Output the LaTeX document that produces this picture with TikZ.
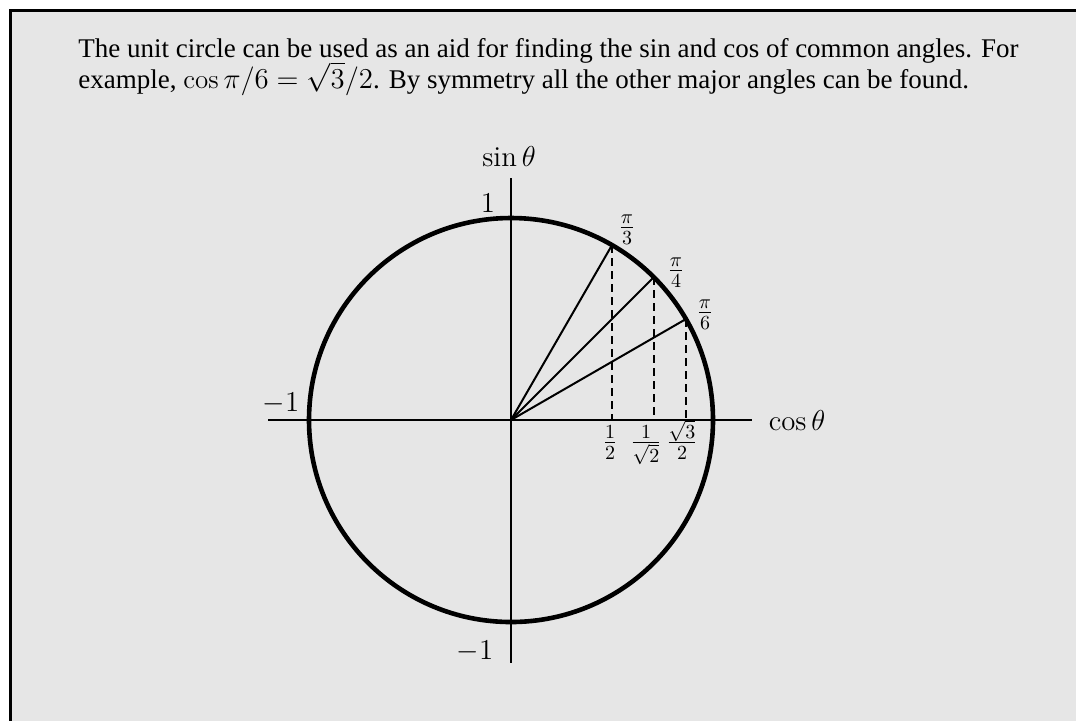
\documentclass[tikz,border=0pt]{standalone}
\usepackage{fontspec}
\newfontfamily\timesf{Liberation Serif}
\definecolor{bgpanel}{HTML}{E6E6E6}
\tikzset{
  lbl/.style={inner sep=0pt, font=\fontsize{14.4}{17}\selectfont},
  circ/.style={line width=2.3pt},
  axis/.style={line width=0.8pt},
  ray/.style={line width=1pt},
  drop/.style={line width=1pt, dash pattern=on 4pt off 2.5pt},
  frame/.style={line width=1.5pt}
}
\begin{document}
\begin{tikzpicture}[x=0.5pt,y=-0.5pt]
\useasboundingbox (0,0) rectangle (1076,720);
\clip (0,0) rectangle (1076,720);
\fill[bgpanel] (10,10) rectangle (1090,735);
\draw[frame] (10,735) -- (10,10) -- (1090,10);

\node[anchor=base west, inner sep=0pt, align=left, font=\timesf\fontsize{13.5}{15.5}\selectfont] (txt) at (78,88)
  {The unit circle can be used as an aid for finding the sin and cos of common angles. For\\
   example, $\cos\pi/6=\smash{\sqrt{3}}/2$. By symmetry all the other major angles can be found.};

\coordinate (O) at (511,420);
\coordinate (xl) at (268,420);
\coordinate (xr) at (752,420);
\coordinate (yt) at (511,178);
\coordinate (yb) at (511,663);

\draw[axis] (xl) -- (xr);
\draw[axis] (yt) -- (yb);
\draw[circ] (O) circle[radius=101pt];

\coordinate (p3) at (612,245.1);
\coordinate (p4) at (653.8,277.2);
\coordinate (p6) at (686,319);
\coordinate (f3) at (612,420);
\coordinate (f4) at (653.8,420);
\coordinate (f6) at (686,420);

\draw[ray] (O) -- (p3);
\draw[ray] (O) -- (p4);
\draw[ray] (O) -- (p6);
\draw[drop] (p3) -- (f3);
\draw[drop] (p4) -- (f4);
\draw[drop] (p6) -- (f6);

\node[lbl] (sin) at (509,157) {$\sin\theta$};
\node[lbl] (cos) at (797,421) {$\cos\theta$};
\node[lbl] (one) at (488,203) {$1$};
\node[lbl] (mone) at (281,403) {$-1$};
\node[lbl] (moneb) at (475,651) {$-1$};

\node[lbl, anchor=base] (a3) at (627,235) {$\frac{\pi}{3}$};
\node[lbl, anchor=base] (a4) at (676,278) {$\frac{\pi}{4}$};
\node[lbl, anchor=base] (a6) at (705,320) {$\frac{\pi}{6}$};

\node[lbl, anchor=base] (c3) at (610,450) {$\frac{1}{2}$};
\node[lbl, anchor=base] (c4) at (646,450) {$\frac{1}{\sqrt{2}}$};
\node[lbl, anchor=base] (c6) at (682,450) {$\frac{\sqrt{3}}{2}$};
\end{tikzpicture}
\end{document}
